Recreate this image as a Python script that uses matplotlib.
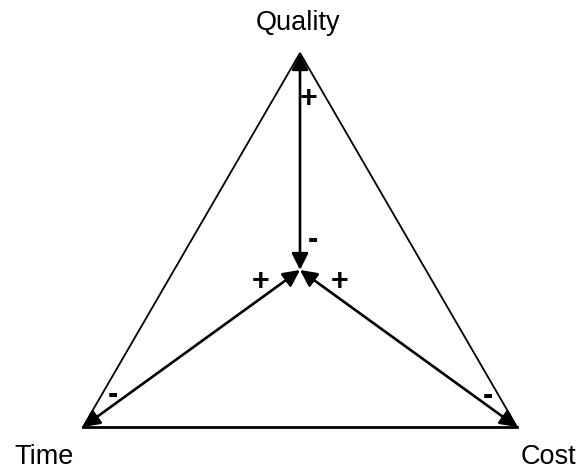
import matplotlib
matplotlib.use("Agg")
import matplotlib.pyplot as plt

plt.rcParams['font.family'] = ['Liberation Sans', 'DejaVu Sans']

# diagram nodes (pixel-like coordinates, y grows downward)
node_names = ['Quality', 'Time', 'Cost']
node_x = [300, 83, 517]
node_y = [53, 427, 427]
center_x, center_y = 300, 270

label_x = [298, 44, 548]
label_y = [23, 457, 457]

# sign markers along the arrows
sign_text = ['+', '-', '+', '+', '-', '-']
sign_x = [309, 313, 261, 340, 113, 488]
sign_y = [99, 240, 282, 282, 395, 396]

fig = plt.figure(figsize=(5.78, 4.72), dpi=100)
ax = fig.add_axes([0, 0, 1, 1])
ax.set_xlim(0, 578)
ax.set_ylim(472, 0)
ax.axis('off')

# outer triangle sides (thin)
ax.plot([node_x[1], node_x[0], node_x[2]], [node_y[1], node_y[0], node_y[2]],
        color='black', lw=1.3, solid_joinstyle='miter')
# bottom side (thicker)
ax.plot([node_x[1], node_x[2]], [node_y[1], node_y[2]], color='black', lw=2)

# double-headed arrows from each corner to the center
for x, y in zip(node_x, node_y):
    ax.annotate('', xy=(x, y), xytext=(center_x, center_y),
                arrowprops=dict(arrowstyle='<|-|>', color='black', lw=1.9,
                                mutation_scale=25, shrinkA=0, shrinkB=0))

for name, x, y in zip(node_names, label_x, label_y):
    ax.text(x, y, name, fontsize=19.5, ha='center', va='center')

for s, x, y in zip(sign_text, sign_x, sign_y):
    ax.text(x, y, s, fontsize=22, fontweight='bold', ha='center', va='center')

plt.savefig('out.png', dpi=100)
